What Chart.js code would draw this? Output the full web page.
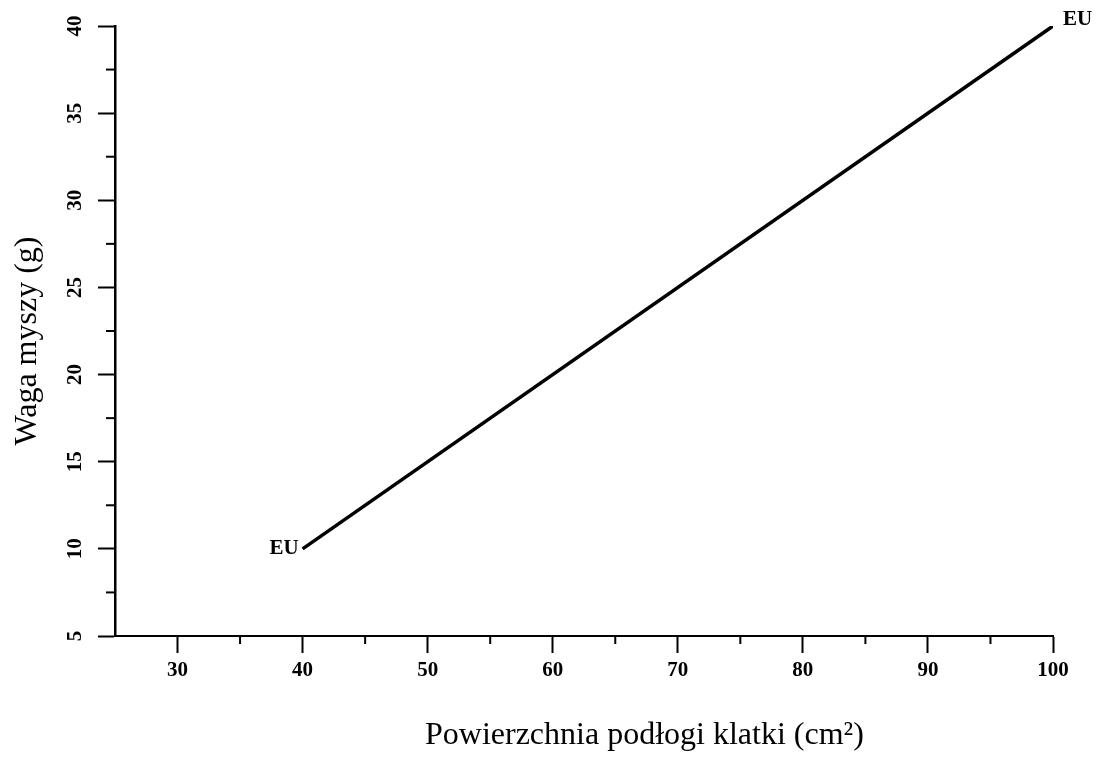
<!DOCTYPE html>
<html>
<head>
<meta charset="utf-8">
<script src="https://cdn.jsdelivr.net/npm/chart.js@4"></script>
<style>
  html, body { margin: 0; padding: 0; background: #fff; }
  #wrap { width: 1106px; height: 760px; }
</style>
</head>
<body>
<div id="wrap"><canvas id="myChart"></canvas></div>
<script>
// dane
var areaCm2 = [40, 100];       // powierzchnia podłogi klatki
var weightG = [10, 40];        // waga myszy
var endLabels = ['EU', 'EU'];
var xMajor = [30, 40, 50, 60, 70, 80, 90, 100];
var yMajor = [5, 10, 15, 20, 25, 30, 35, 40];
var xTitle = 'Powierzchnia podłogi klatki (cm²)';
var yTitle = 'Waga myszy (g)';

Chart.defaults.font.family = 'Liberation Serif';
Chart.defaults.color = '#000';

var points = areaCm2.map(function (x, i) { return { x: x, y: weightG[i] }; });

// krótkie kreski pośrednie + opisy osi + etykiety EU
var extras = {
    id: 'extras',
    afterDraw: function (chart) {
        var c = chart.ctx, xs = chart.scales.x, ys = chart.scales.y, a = chart.chartArea;
        c.save();
        c.strokeStyle = '#000';
        c.lineWidth = 2;
        // minor ticks
        for (var v = 35; v < 100; v += 10) {
            var px = xs.getPixelForValue(v);
            c.beginPath(); c.moveTo(px, a.bottom); c.lineTo(px, a.bottom + 8); c.stroke();
        }
        for (var w = 7.5; w < 40; w += 5) {
            var py = ys.getPixelForValue(w);
            c.beginPath(); c.moveTo(a.left, py); c.lineTo(a.left - 9, py); c.stroke();
        }
        // tytuły osi
        c.fillStyle = '#000';
        c.font = '32px "Liberation Serif"';
        c.textAlign = 'left';
        c.textBaseline = 'alphabetic';
        c.fillText(xTitle, 425, 744);
        c.translate(28, 341);
        c.rotate(-Math.PI / 2);
        c.textAlign = 'center';
        c.textBaseline = 'middle';
        c.fillText(yTitle, 0, 0);
        c.restore();

        // EU
        var meta = chart.getDatasetMeta(0);
        c.save();
        c.fillStyle = '#000';
        c.font = 'bold 21px "Liberation Serif"';
        c.textBaseline = 'middle';
        var p0 = meta.data[0], p1 = meta.data[1];
        c.textAlign = 'right';
        c.fillText(endLabels[0], p0.x - 4, p0.y);
        c.textAlign = 'left';
        c.fillText(endLabels[1], p1.x + 10, p1.y - 6);
        c.restore();
    }
};

var ctx = document.getElementById('myChart');
var myChart = new Chart(ctx, {
    type: 'scatter',
    data: {
        datasets: [{
            data: points,
            showLine: true,
            borderColor: '#000',
            borderWidth: 3.5,
            pointRadius: 0,
            fill: false
        }]
    },
    options: {
        responsive: true,
        maintainAspectRatio: false,
        animation: false,
        layout: { padding: { left: 0, right: 53, top: 26, bottom: 0 } },
        plugins: {
            legend: { display: false },
            tooltip: { enabled: false }
        },
        scales: {
            x: {
                type: 'linear',
                min: 25,
                max: 100,
                afterFit: function (s) { s.height = 124; },
                border: { display: true, color: '#000', width: 2 },
                grid: {
                    drawOnChartArea: false,
                    tickLength: 17,
                    tickWidth: 2,
                    tickColor: function (c) {
                        return xMajor.indexOf(c.tick.value) >= 0 ? '#000' : 'rgba(0,0,0,0)';
                    }
                },
                ticks: {
                    stepSize: 5,
                    autoSkip: false,
                    maxRotation: 0,
                    padding: 5,
                    font: { size: 21, weight: 'bold' },
                    callback: function (v) { return xMajor.indexOf(v) >= 0 ? v : ''; }
                }
            },
            y: {
                type: 'linear',
                min: 5,
                max: 40,
                afterFit: function (s) { s.width = 115; },
                border: { display: true, color: '#000', width: 2.5 },
                grid: {
                    drawOnChartArea: false,
                    tickLength: 17,
                    tickWidth: 2,
                    tickColor: function (c) {
                        return yMajor.indexOf(c.tick.value) >= 0 ? '#000' : 'rgba(0,0,0,0)';
                    }
                },
                ticks: {
                    stepSize: 2.5,
                    autoSkip: false,
                    minRotation: 90,
                    maxRotation: 90,
                    crossAlign: 'center',
                    padding: 12,
                    font: { size: 21, weight: 'bold' },
                    callback: function (v) { return yMajor.indexOf(v) >= 0 ? v : ''; }
                }
            }
        }
    },
    plugins: [extras]
});
</script>
</body>
</html>
